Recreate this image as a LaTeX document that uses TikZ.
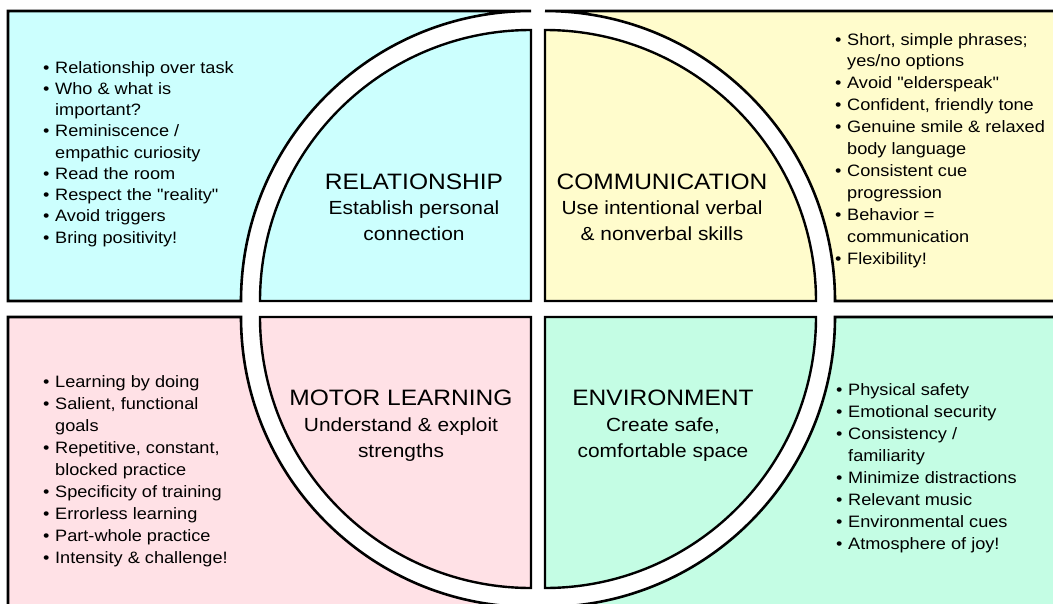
\documentclass[tikz,border=0pt]{standalone}
\usepackage{fontspec}
\setmainfont{Liberation Sans}[FakeStretch=1.1, Ligatures=TeXOff]
\definecolor{relc}{RGB}{204,255,254}
\definecolor{comc}{RGB}{255,252,204}
\definecolor{motc}{RGB}{255,225,230}
\definecolor{envc}{RGB}{196,253,228}
\newcommand{\bul}{\makebox[12pt][l]{•}}
\newcommand{\cont}{\hspace*{12pt}}
\tikzset{
  box/.style={draw=black, line width=2.6pt},
  quarter/.style={draw=black, line width=2.4pt},
  listtxt/.style={inner sep=0pt, anchor=base west, font=\fontsize{16.5}{20}\selectfont},
  titletxt/.style={inner sep=0pt, anchor=base, font=\fontsize{22.3}{26}\selectfont},
  subtxt/.style={inner sep=0pt, anchor=base, font=\fontsize{19}{23}\selectfont}
}
\begin{document}
\begin{tikzpicture}[x=1pt,y=-1pt]
\useasboundingbox (0,0) rectangle (1053,603);
\clip (0,0) rectangle (1053,603);
\fill[white] (0,0) rectangle (1053,603);
% outer boxes
\path[box, fill=relc] (8,11) -- (531,11) arc[start angle=90, end angle=180, radius=290pt] -- (8,301) -- cycle;
\path[box, fill=comc] (1065,11) -- (545,11) arc[start angle=90, end angle=0, radius=290pt] -- (1065,301) -- cycle;
\path[box, fill=motc] (8,317) -- (241,317) arc[start angle=180, end angle=270, radius=290pt] -- (531,620) -- (8,620) -- cycle;
\path[box, fill=envc] (1065,317) -- (835,317) arc[start angle=0, end angle=-90, radius=290pt] -- (545,620) -- (1065,620) -- cycle;
% inner quarters
\path[quarter, fill=relc] (531,301) -- (531,30) arc[start angle=90, end angle=180, radius=271pt] -- cycle;
\path[quarter, fill=comc] (545,301) -- (545,30) arc[start angle=90, end angle=0, radius=271pt] -- cycle;
\path[quarter, fill=motc] (531,317) -- (531,588) arc[start angle=270, end angle=180, radius=271pt] -- cycle;
\path[quarter, fill=envc] (545,317) -- (816,317) arc[start angle=0, end angle=-90, radius=271pt] -- cycle;
% titles
\node[titletxt] (reltitle) at (414,189) {RELATIONSHIP};
\node[subtxt] (relsuba) at (414,214) {Establish personal};
\node[subtxt] (relsubb) at (414,240) {connection};
\node[titletxt] (comtitle) at (662,189) {COMMUNICATION};
\node[subtxt] (comsuba) at (662,214) {Use intentional verbal};
\node[subtxt] (comsubb) at (662,240) {\& nonverbal skills};
\node[titletxt] (mottitle) at (401,405) {MOTOR LEARNING};
\node[subtxt] (motsuba) at (401,431) {Understand \& exploit};
\node[subtxt] (motsubb) at (401,457) {strengths};
\node[titletxt] (envtitle) at (663,405) {ENVIRONMENT};
\node[subtxt] (envsuba) at (663,431) {Create safe,};
\node[subtxt] (envsubb) at (663,457) {comfortable space};
% lists
\foreach \t [count=\i from 0] in {{\bul Relationship over task},{\bul Who \& what is},{\cont important?},{\bul Reminiscence /},{\cont empathic curiosity},{\bul Read the room},{\bul Respect the "reality"},{\bul Avoid triggers},{\bul Bring positivity!}}
  \node[listtxt] (rel\i) at (43,{73+21.25*\i}) {\t};
\foreach \t [count=\i from 0] in {{\bul Short, simple phrases;},{\cont yes/no options},{\bul Avoid "elderspeak"},{\bul Confident, friendly tone},{\bul Genuine smile \& relaxed},{\cont body language},{\bul Consistent cue},{\cont progression},{\bul Behavior =},{\cont communication},{\bul Flexibility!}}
  \node[listtxt] (com\i) at (835,{45+21.9*\i}) {\t};
\foreach \t [count=\i from 0] in {{\bul Learning by doing},{\bul Salient, functional},{\cont goals},{\bul Repetitive, constant,},{\cont blocked practice},{\bul Specificity of training},{\bul Errorless learning},{\bul Part-whole practice},{\bul Intensity \& challenge!}}
  \node[listtxt] (mot\i) at (43,{387+22*\i}) {\t};
\foreach \t [count=\i from 0] in {{\bul Physical safety},{\bul Emotional security},{\bul Consistency /},{\cont familiarity},{\bul Minimize distractions},{\bul Relevant music},{\bul Environmental cues},{\bul Atmosphere of joy!}}
  \node[listtxt] (env\i) at (836,{395+22*\i}) {\t};
\end{tikzpicture}
\end{document}
